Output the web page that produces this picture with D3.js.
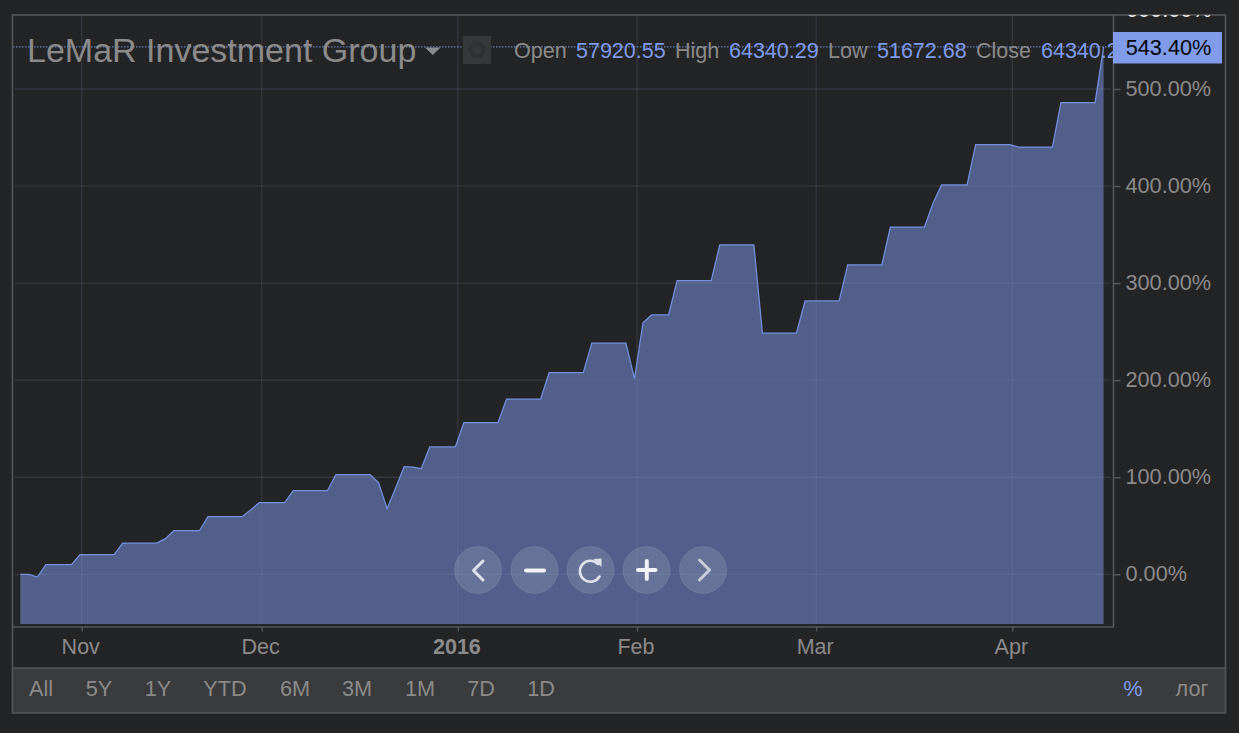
<!DOCTYPE html>
<html><head><meta charset="utf-8">
<script src="https://cdn.jsdelivr.net/npm/d3@7"></script>
<style>
html,body{margin:0;padding:0;background:#232426;overflow:hidden}
text{font-family:"Liberation Sans",Arial,sans-serif}
</style></head><body>
<svg id="c" width="1239" height="733"></svg>
<script>
// Percent change, one value per weekday
const values = [
 0,0,-2.8, 9.9,9.9,9.9,9.9, 20.2,20.2,20.2,20.2,20.2,
 32.2,32.2,32.2,32.2,32.2, 36.7, 44.9,44.9,44.9,44.9,
 59.3,59.3,59.3,59.3,59.3, 66.2, 73.8,73.8,73.8,73.8,
 86.1,86.1,86.1,86.1,86.1, 102.6,102.6,102.6,102.6,102.6,
 94.4,67.6,88.9,110.9,110.5,108.8, 131.2,131.2,131.2,131.2,
 156.2,156.2,156.2,156.2,156.2, 180.6,180.6,180.6,180.6,180.6,
 207.7,207.7,207.7,207.7,207.7, 238.3,238.3,238.3,238.3,238.3,
 201.5,259.2,267.2,267.2,267.2, 302.5,302.5,302.5,302.5,302.5,
 339.3,339.3,339.3,339.3,339.3, 248.6,248.6,248.6,248.6,248.6,
 281.6,281.6,281.6,281.6,281.6, 318.7,318.7,318.7,318.7,318.7,
 357.8,357.8,357.8,357.8,357.8, 382.2,401.1,401.1,401.1,401.1,
 442.6,442.6,442.6,442.6,442.6, 440.2,440.2,440.2,440.2,440.2,
 485.9,485.9,485.9,485.9,485.9, 543.4];
const monthTicks = [7.2,28.3,51.3,72.3,93.3,116.3];
const monthLabels = ["Nov","Dec","2016","Feb","Mar","Apr"];
const yTicks = [0,100,200,300,400,500];
const ohlcNames = ["Open","High","Low","Close"];
const ohlcValues = ["57920.55","64340.29","51672.68","64340.29"];
const rangeLabels = ["All","5Y","1Y","YTD","6M","3M","1M","7D","1D"];
const title = "LeMaR Investment Group";
const lastLabel = "543.40%";
const clippedTopLabel = "600.00%";

const svg = d3.select("#c");
const BLUE="#7f9bea", GREY="#8b8b8b";
const x = d3.scaleLinear().domain([0,127]).range([20.3,1103.6]);
const y = d3.scaleLinear().domain([0,500]).range([574.3,89]);
const fmt = d => d.toFixed(2)+"%";

// panels
svg.append("rect").attr("x",12.5).attr("y",668).attr("width",1213).attr("height",45).attr("fill","#3a3b3d");
const defs = svg.append("defs");
defs.append("clipPath").attr("id","plot").append("rect").attr("x",13).attr("y",16).attr("width",1100).attr("height",608);
defs.append("clipPath").attr("id","topclip").append("rect").attr("x",1115).attr("y",15).attr("width",110).attr("height",2.2);
defs.append("clipPath").attr("id","legclip").append("rect").attr("x",1030).attr("y",30).attr("width",83).attr("height",40);

// area
const g = svg.append("g").attr("clip-path","url(#plot)");
g.append("path").datum(values)
 .attr("d",d3.area().x((d,i)=>x(i)).y0(624).y1(d=>y(d)))
 .attr("fill","#525f8a");
// grid over area
const gridV = svg.append("g");
monthTicks.forEach(t=>{
 gridV.append("line").attr("x1",x(t)).attr("x2",x(t)).attr("y1",16).attr("y2",624)
  .attr("stroke","#8a94b8").attr("stroke-opacity",0.17).attr("stroke-width",1.3);
});
yTicks.forEach(t=>{
 gridV.append("line").attr("x1",15).attr("x2",1111).attr("y1",y(t)).attr("y2",y(t))
  .attr("stroke","#8a94b8").attr("stroke-opacity",0.17).attr("stroke-width",1.3);
});
g.append("path").datum(values)
 .attr("d",d3.line().x((d,i)=>x(i)).y(d=>y(d)))
 .attr("fill","none").attr("stroke","#7490de").attr("stroke-width",1.25);

// frames
svg.append("rect").attr("x",12.5).attr("y",15).attr("width",1213).attr("height",698)
 .attr("fill","none").attr("stroke","#555657").attr("stroke-width",1.6);
const frame = [[12.5,668,1225.5,668],[12.5,627,1114,627],[1113.5,15,1113.5,627]];
frame.forEach(f=>svg.append("line").attr("x1",f[0]).attr("y1",f[1]).attr("x2",f[2]).attr("y2",f[3])
 .attr("stroke","#555657").attr("stroke-width",1.6));

// y axis through d3
const ya = svg.append("g").attr("transform","translate(1114,0)")
 .call(d3.axisRight(y).tickValues(yTicks).tickFormat(fmt).tickSize(6.5).tickPadding(4));
ya.select(".domain").remove();
ya.selectAll("line").attr("stroke","#555657").attr("stroke-width",1.5);
ya.selectAll("text").attr("fill",GREY).attr("font-size",21.7).attr("x",11.5).attr("dy","0.3em");
// top tick label, only its lower edge shows under the frame
svg.append("text").attr("x",1126).attr("y",17).attr("fill","#e8e8e8").attr("font-size",21.7)
 .attr("clip-path","url(#topclip)").text(clippedTopLabel);

// x axis through d3
const xa = svg.append("g").attr("transform","translate(0,627)")
 .call(d3.axisBottom(x).tickValues(monthTicks).tickFormat((d,i)=>monthLabels[i]).tickSize(4.5).tickPadding(5));
xa.select(".domain").remove();
xa.selectAll("line").attr("stroke","#555657").attr("stroke-width",1.4);
xa.selectAll("text").attr("fill",GREY).attr("font-size",21.5).attr("y",27).attr("dy",0).attr("dx",-1.5)
 .attr("font-weight",(d,i)=>monthLabels[i]==="2016"?"bold":"normal");

// crosshair
svg.append("line").attr("x1",13).attr("x2",1113).attr("y1",y(543.4)).attr("y2",y(543.4))
 .attr("stroke",BLUE).attr("stroke-opacity",.75).attr("stroke-width",1.1).attr("stroke-dasharray","1.5 1.5");

// legend
svg.append("text").attr("x",27).attr("y",62).attr("fill",GREY).attr("font-size",34).text(title);
svg.append("path").attr("d","M425,47.5h15.5l-7.7,7.5z").attr("fill",GREY);
svg.append("rect").attr("x",463).attr("y",36).attr("width",28).attr("height",28).attr("fill","#37383a");
svg.append("circle").attr("cx",477).attr("cy",50).attr("r",6.5).attr("fill","none").attr("stroke","#2e2f31").attr("stroke-width",4).attr("stroke-opacity",.8);
const lx=[514,675,828,976], vx=[576,729,877,1041];
ohlcNames.forEach((n,i)=>{
 svg.append("text").attr("x",lx[i]).attr("y",58).attr("fill",GREY).attr("font-size",21.5).text(n);
 svg.append("text").attr("x",vx[i]).attr("y",58).attr("fill",BLUE).attr("font-size",21.5)
  .attr("clip-path",i===3?"url(#legclip)":null).text(ohlcValues[i]);
});

// last value flag
svg.append("rect").attr("x",1113).attr("y",32).attr("width",109).attr("height",31.5).attr("fill",BLUE);
svg.append("text").attr("x",1168.5).attr("y",54.5).attr("text-anchor","middle").attr("fill","#050505").attr("font-size",21.7).text(lastLabel);

// range bar
const rx=[41,99,158,225,295,357,420,481,541];
rangeLabels.forEach((t,i)=>svg.append("text").attr("x",rx[i]).attr("y",696).attr("text-anchor","middle")
 .attr("fill",GREY).attr("font-size",21.7).text(t));
svg.append("text").attr("x",1133).attr("y",696).attr("text-anchor","middle").attr("fill",BLUE).attr("font-size",21.7).text("%");
svg.append("text").attr("x",1192).attr("y",696).attr("text-anchor","middle").attr("fill",GREY).attr("font-size",21.7).text("лог");

// nav buttons
const bx=[478,534.5,590.5,646.5,703];
bx.forEach(c=>svg.append("circle").attr("cx",c).attr("cy",570).attr("r",23.5)
 .attr("fill","#fff").attr("fill-opacity",.12).attr("stroke","#fff").attr("stroke-opacity",.1).attr("stroke-width",1));
const ic = svg.append("g").attr("fill","none").attr("stroke","#dfe2ea").attr("stroke-width",3).attr("stroke-linecap","round").attr("stroke-linejoin","round");
ic.append("path").attr("d","M483,561l-9.5,9.5l9.5,9.5");
ic.append("path").attr("d","M526,570.5h18").attr("stroke-width",4).attr("stroke","#f2f3f6");
ic.append("path").attr("d","M598,564a10.5,10.5 0 1 0 1.5,12.5").attr("stroke-width",2.6);
svg.append("path").attr("d","M593.5,559l8,-0.5l0,8.5z").attr("fill","#dfe2ea");
ic.append("path").attr("d","M638,570h17.5M646.8,561v18").attr("stroke-width",4).attr("stroke","#f2f3f6");
ic.append("path").attr("d","M699.5,560l10,10l-10,10").attr("stroke","#c9cedb");
</script></body></html>
